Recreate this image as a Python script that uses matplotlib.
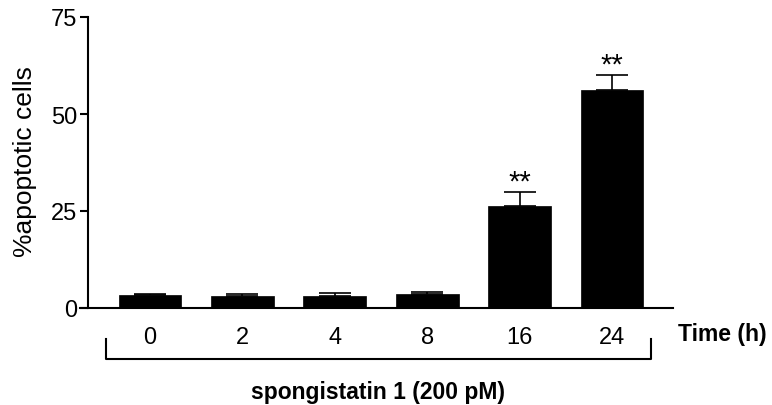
import numpy as np
import matplotlib
matplotlib.use('Agg')
import matplotlib.pyplot as plt

plt.rcParams['font.family'] = ['Liberation Sans', 'DejaVu Sans']

# apoptosis time course after spongistatin 1 treatment
tempos = ['0', '2', '4', '8', '16', '24']
apoptose = [3.3, 3.0, 3.2, 3.5, 26.4, 56.3]
erro = [0.4, 0.6, 0.7, 0.7, 3.6, 3.7]
signif = ['', '', '', '', '**', '**']

fig = plt.figure(figsize=(7.72, 4.06), dpi=100)
W, H = 772, 406
ax = fig.add_axes([80 / W, (H - 309) / H, 593 / W, 291 / H])

x = np.arange(len(tempos))
ax.bar(x, apoptose, width=0.68, color='black', edgecolor='black', linewidth=0.5, zorder=2)
ax.errorbar(x, apoptose, yerr=[np.zeros(len(erro)), erro], fmt='none',
            ecolor='black', elinewidth=1.2, capsize=11.5, capthick=1.2, zorder=1)

for xi, yi, e, s in zip(x, apoptose, erro, signif):
    if s:
        ax.annotate(s, (xi, yi + e), xytext=(0, 7.5), textcoords='offset points',
                    ha='center', va='center', fontsize=21)

ax.set_xlim(-0.758, 5.66)
ax.set_ylim(0, 75)
ax.set_yticks([0, 25, 50, 75])
ax.set_xticks(x)
ax.set_xticklabels(tempos)

ax.spines['top'].set_visible(False)
ax.spines['right'].set_visible(False)
ax.spines['left'].set_position(('data', -0.671))
ax.spines['left'].set_linewidth(1.5)
ax.spines['bottom'].set_linewidth(1.5)
ax.tick_params(axis='y', length=6, width=1.5, pad=2, labelsize=17)
ax.tick_params(axis='x', length=0, pad=13, labelsize=17)

# bracket under the time points
bx0, bx1 = -0.476, 5.42
by0, by1 = -7.9, -13.1
ax.plot([bx0, bx0, bx1, bx1], [by0, by1, by1, by0], color='black', lw=1.5, clip_on=False)

fig.text(678 / W, (H - 335) / H, 'Time (h)', fontsize=16.5, fontweight='bold',
         ha='left', va='center')
fig.text(378 / W, (H - 393) / H, 'spongistatin 1 (200 pM)', fontsize=16.5,
         fontweight='bold', ha='center', va='center')
fig.text(25 / W, (H - 162) / H, '%apoptotic cells', fontsize=19, rotation=90,
         ha='center', va='center')

fig.savefig('out.png', dpi=100)
